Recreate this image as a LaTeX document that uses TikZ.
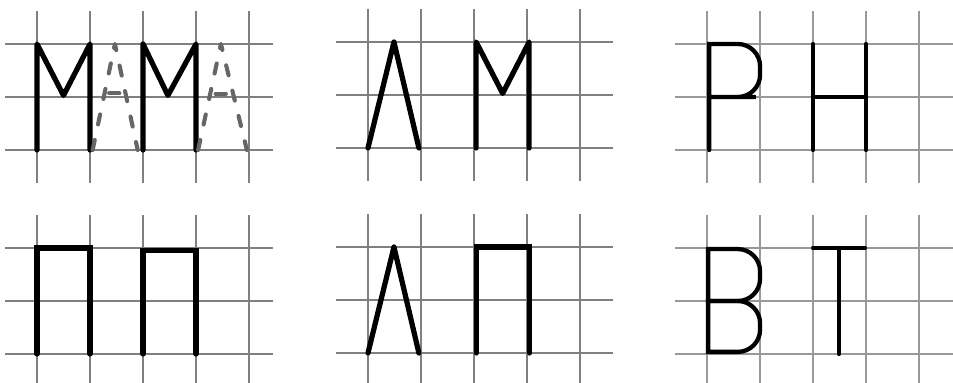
\documentclass[tikz,border=0pt]{standalone}
\definecolor{gridgray}{HTML}{808080}
\definecolor{gridlight}{HTML}{999999}
\definecolor{ghostgray}{HTML}{666666}

% one cell grid of 4 x 2 squares, #1 = right end of the rows, #2 = colour
\newcommand{\gridpanel}[2]{%
  \foreach \gx in {0,...,4} \draw[gridline, #2] (\gx,-0.62) -- (\gx,2.62);
  \foreach \gy in {0,1,2} \draw[gridline, #2] (-0.6,\gy) -- (#1,\gy);}

\begin{document}
\begin{tikzpicture}[
    gridline/.style={line width=1pt},
    letter/.style={line width=2.8pt, line cap=round, line join=round},
    squareletter/.style={letter, line join=miter},
    thinletter/.style={line width=2.3pt, line cap=round, line join=miter},
    ghost/.style={line width=2.2pt, line cap=round, line join=round, ghostgray,
                  dash pattern=on 5.5pt off 8.5pt}]
    \useasboundingbox (0,0) rectangle (17.98,-7.226);
    \clip (0,0) rectangle (17.98,-7.226);

    % top row
    \begin{scope}[shift={(0.698,-2.830)}] % MAMA
        \gridpanel{4.45}{gridgray}
        \draw[letter] (0,0) -- (0,2) -- (0.5,1.03) -- (1,2) -- (1,0);
        \draw[letter] (2,0) -- (2,2) -- (2.47,1.03) -- (3,2) -- (3,0);
        \draw[ghost] (1.05,0) -- (1.47,2) -- (1.9,0);
        \draw[ghost] (1.36,1.07) -- (1.6,1.07);
        \draw[ghost] (3.04,0) -- (3.47,2) -- (3.96,0);
        \draw[ghost] (3.37,1.06) -- (3.6,1.06);
    \end{scope}

    \begin{scope}[shift={(6.943,-2.792)}] % LM
        \gridpanel{4.62}{gridgray}
        \draw[letter] (0,0) -- (0.49,2) -- (0.96,0);
        \draw[letter] (2.04,0) -- (2.04,2) -- (2.54,1.03) -- (3.04,2) -- (3.04,0);
    \end{scope}

    \begin{scope}[shift={(13.34,-2.830)}] % RN
        \gridpanel{4.7}{gridlight}
        \draw[thinletter] (0.04,0) -- (0.04,2) -- (0.5,2) [rounded corners=0.42cm]
            -- (1,2) -- (1,1) -- (0.5,1) [sharp corners] -- (0.04,1);
        \draw[thinletter] (2,0) -- (2,2);
        \draw[thinletter] (3,0) -- (3,2);
        \draw[thinletter] (2,1) -- (3,1);
    \end{scope}

    % bottom row
    \begin{scope}[shift={(0.698,-6.679)}] % PP
        \gridpanel{4.45}{gridgray}
        \draw[squareletter] (0,0) -- (0,2) -- (1,2) -- (1,0);
        \draw[squareletter] (2,0) -- (2,1.96) -- (3,1.96) -- (3,0);
    \end{scope}

    \begin{scope}[shift={(6.943,-6.660)}] % LP
        \gridpanel{4.62}{gridgray}
        \draw[letter] (0,0) -- (0.49,2) -- (0.96,0);
        \draw[squareletter] (2.04,0) -- (2.04,2) -- (3.05,2) -- (3.05,0);
    \end{scope}

    \begin{scope}[shift={(13.34,-6.679)}] % VT
        \gridpanel{4.7}{gridlight}
        \draw[thinletter] (0.5,1) -- (0.02,1) -- (0.02,1.98) -- (0.5,1.98)
            [rounded corners=0.42cm] -- (1,1.98) -- (1,1) -- (0.5,1);
        \draw[thinletter] (0.5,1) -- (0.02,1) -- (0.02,0.04) -- (0.5,0.04)
            [rounded corners=0.42cm] -- (1,0.04) -- (1,1) -- (0.5,1);
        \draw[thinletter] (2,2) -- (2.98,2);
        \draw[thinletter] (2.49,2) -- (2.49,0);
    \end{scope}
\end{tikzpicture}
\end{document}
